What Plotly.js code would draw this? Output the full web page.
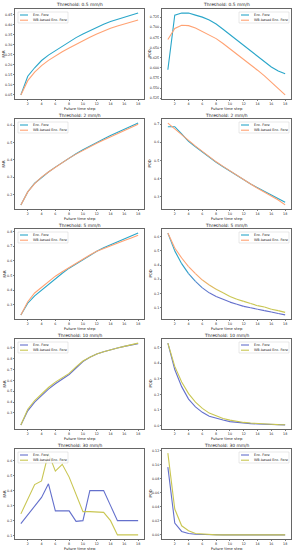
<!DOCTYPE html>
<html><head><meta charset="utf-8">
<script src="https://cdn.plot.ly/plotly-3.0.1.min.js"></script>
<style>html,body{margin:0;padding:0;background:#fff}#chart{width:294px;height:550px}</style>
</head><body><div id="chart"></div>
<script>
const steps = [1,2,3,4,5,6,7,8,9,10,11,12,13,14,15,16,17,18];
const xTicks = [2,4,6,8,10,12,14,16,18];
const thresholds = ["0.5 mm/h","2 mm/h","5 mm/h","10 mm/h","30 mm/h"];
const seriesNames = ["Enc. Fore","WB-based Enc. Fore"];

// FAR values
const farEnc05 = [0.05,0.143,0.185,0.221,0.248,0.270,0.293,0.315,0.335,0.353,0.370,0.387,0.402,0.415,0.426,0.437,0.447,0.457];
const farWb05  = [0.05,0.121,0.163,0.196,0.222,0.245,0.265,0.283,0.302,0.320,0.337,0.353,0.368,0.382,0.393,0.404,0.414,0.423];
const farEnc2  = [0.14,0.215,0.265,0.300,0.330,0.358,0.385,0.410,0.435,0.458,0.480,0.500,0.520,0.540,0.558,0.575,0.592,0.612];
const farWb2   = [0.14,0.215,0.263,0.300,0.330,0.358,0.385,0.410,0.433,0.455,0.476,0.496,0.515,0.533,0.552,0.570,0.587,0.605];
const farEnc5  = [0.23,0.31,0.36,0.40,0.44,0.48,0.515,0.55,0.58,0.61,0.64,0.665,0.69,0.71,0.73,0.75,0.77,0.79];
const farWb5   = [0.23,0.32,0.38,0.42,0.46,0.495,0.525,0.555,0.585,0.615,0.64,0.665,0.685,0.705,0.725,0.74,0.757,0.775];
const farEnc10 = [0.19,0.32,0.40,0.46,0.52,0.57,0.615,0.655,0.715,0.775,0.815,0.845,0.865,0.885,0.90,0.915,0.928,0.94];
const farWb10  = [0.19,0.335,0.415,0.475,0.535,0.585,0.625,0.665,0.725,0.78,0.815,0.845,0.865,0.885,0.90,0.915,0.93,0.945];
const farEnc30 = [0.18,0.24,0.30,0.355,0.445,0.265,0.265,0.265,0.195,0.20,0.40,0.40,0.40,0.30,0.20,0.20,0.20,0.20];
const farWb30  = [0.245,0.345,0.44,0.465,0.65,0.53,0.575,0.49,0.375,0.26,0.26,0.255,0.255,0.20,0.105,0.105,0.105,0.105];

// POD values
const podEnc05 = [0.595,0.730,0.735,0.735,0.730,0.725,0.718,0.708,0.695,0.682,0.668,0.655,0.641,0.628,0.615,0.602,0.592,0.585];
const podWb05  = [0.670,0.697,0.705,0.704,0.698,0.690,0.682,0.672,0.660,0.647,0.635,0.622,0.608,0.594,0.580,0.565,0.550,0.533];
const podEnc2  = [0.685,0.685,0.645,0.605,0.575,0.545,0.518,0.490,0.465,0.440,0.415,0.390,0.370,0.350,0.330,0.310,0.290,0.270];
const podWb2   = [0.705,0.675,0.645,0.610,0.578,0.548,0.520,0.492,0.467,0.442,0.418,0.393,0.370,0.347,0.325,0.303,0.282,0.255];
const podEnc5  = [0.625,0.50,0.41,0.34,0.285,0.24,0.205,0.18,0.16,0.14,0.125,0.11,0.10,0.09,0.08,0.07,0.06,0.05];
const podWb5   = [0.625,0.52,0.45,0.39,0.34,0.295,0.26,0.23,0.205,0.18,0.16,0.145,0.13,0.115,0.105,0.09,0.08,0.068];
const podEnc10 = [0.53,0.36,0.25,0.17,0.12,0.085,0.06,0.045,0.035,0.025,0.02,0.015,0.012,0.01,0.008,0.006,0.005,0.004];
const podWb10  = [0.53,0.38,0.28,0.205,0.15,0.11,0.08,0.06,0.045,0.035,0.027,0.02,0.016,0.012,0.01,0.008,0.006,0.005];
const podEnc30 = [0.097,0.017,0.005,0.002,0.001,0.0005,0,0,0,0,0,0,0,0,0,0,0,0];
const podWb30  = [0.117,0.037,0.013,0.006,0.002,0.001,0.0005,0,0,0,0,0,0,0,0,0,0,0];

// y tick labels per panel
const farTicks = [
  ["0.05","0.10","0.15","0.20","0.25","0.30","0.35","0.40","0.45"],
  ["0.2","0.3","0.4","0.5","0.6"],
  ["0.2","0.3","0.4","0.5","0.6","0.7","0.8"],
  ["0.3","0.4","0.5","0.6","0.7","0.8","0.9"],
  ["0.1","0.2","0.3","0.4","0.5","0.6"]];
const podTicks = [
  ["0.525","0.550","0.575","0.600","0.625","0.650","0.675","0.700","0.725"],
  ["0.3","0.4","0.5","0.6","0.7"],
  ["0.1","0.2","0.3","0.4","0.5","0.6"],
  ["0.0","0.1","0.2","0.3","0.4","0.5"],
  ["0.00","0.02","0.04","0.06","0.08","0.10","0.12"]];

const farData = [[farEnc05,farWb05],[farEnc2,farWb2],[farEnc5,farWb5],[farEnc10,farWb10],[farEnc30,farWb30]];
const podData = [[podEnc05,podWb05],[podEnc2,podWb2],[podEnc5,podWb5],[podEnc10,podWb10],[podEnc30,podWb30]];

const TEAL="#2aa6c9", ORANGE="#ffa273", BLUE="#6470cc", YELLOW="#c9c652";
const rowColors = [[TEAL,ORANGE],[TEAL,ORANGE],[TEAL,ORANGE],[BLUE,YELLOW],[BLUE,YELLOW]];

const W=294,H=550;
const FONT="DejaVu Sans", TXT="#222";
const traces=[]; const layout={width:W,height:H,margin:{l:0,r:0,t:0,b:0},paper_bgcolor:"#fff",plot_bgcolor:"#fff",
  font:{family:FONT,size:4,color:TXT},annotations:[],shapes:[],showlegend:false};

function hexToRgb(h){return [parseInt(h.slice(1,3),16),parseInt(h.slice(3,5),16),parseInt(h.slice(5,7),16)];}
function mix(a,b,t){const A=hexToRgb(a),B=hexToRgb(b);return "rgb("+A.map((v,i)=>Math.round(v+(B[i]-v)*t)).join(",")+")";}
const px=x=>x/W, py=y=>1-y/H;

const colL=[15,144], colR=[162,291];
let k=0;
for(let r=0;r<5;r++){
  for(let c=0;c<2;c++){
    k++;
    const ax = k===1?"":String(k);
    const cols = c===0?colL:colR;
    const top=110*r+9, bot=110*r+99;
    const data = c===0?farData[r]:podData[r];
    const ticks = c===0?farTicks[r]:podTicks[r];
    const all = data[0].concat(data[1]);
    const mn=Math.min(...all), mx=Math.max(...all), pad=(mx-mn)*0.05;
    const axStyle={showline:true,mirror:true,linecolor:"#000",linewidth:0.6,ticks:"outside",ticklen:1.5,tickwidth:0.5,
      tickcolor:"#000",showgrid:false,zeroline:false,tickfont:{size:3.3,color:TXT,family:FONT}};
    layout["xaxis"+ax]=Object.assign({domain:[px(cols[0]),px(cols[1])],anchor:"y"+ax,range:[0.15,18.85],
      tickvals:xTicks,ticktext:xTicks.map(String)},axStyle);
    layout["yaxis"+ax]=Object.assign({domain:[py(bot),py(top)],anchor:"x"+ax,range:[mn-pad,mx+pad],
      tickvals:ticks.map(Number),ticktext:ticks},axStyle);
    // subplot title
    layout.annotations.push({text:"Threshold: "+thresholds[r],xref:"paper",yref:"paper",
      x:px((cols[0]+cols[1])/2),y:py(110*r+5),showarrow:false,font:{size:4.4,color:TXT},xanchor:"center",yanchor:"middle"});
    // x title
    layout.annotations.push({text:"Future time step",xref:"paper",yref:"paper",
      x:px((cols[0]+cols[1])/2),y:py(110*r+108.3),showarrow:false,font:{size:3.8,color:TXT},xanchor:"center",yanchor:"middle"});
    // y title
    layout.annotations.push({text:c===0?"FAR":"POD",xref:"paper",yref:"paper",textangle:-90,
      x:px(cols[0]-(c===0?11.5:12.5)),y:py((top+bot)/2),showarrow:false,font:{size:3.8,color:TXT},xanchor:"center",yanchor:"middle"});
    // legend (manual)
    const lx0 = c===0?cols[0]+3:cols[1]-52, lx1 = lx0+50;
    const ly0 = top+3, ly1 = top+14;
    layout.shapes.push({type:"rect",xref:"paper",yref:"paper",x0:px(lx0),x1:px(lx1),y0:py(ly0),y1:py(ly1),
      line:{color:"#d0d0d0",width:0.5},fillcolor:"rgba(255,255,255,0.85)",layer:"above"});
    for(let s=0;s<2;s++){
      const yy = ly0+3+s*5.2;
      layout.shapes.push({type:"line",xref:"paper",yref:"paper",x0:px(lx0+2),x1:px(lx0+10),y0:py(yy),y1:py(yy),
        line:{color:rowColors[r][s],width:1.1},layer:"above"});
      layout.annotations.push({text:seriesNames[s],xref:"paper",yref:"paper",x:px(lx0+12.5),y:py(yy),
        showarrow:false,xanchor:"left",yanchor:"middle",font:{size:3.4,color:TXT}});
    }
    for(let s=0;s<2;s++){
      const base = rowColors[r][s];
      const gradient = (r===2 && c===1);
      if(!gradient){
        traces.push({x:steps,y:data[s],xaxis:"x"+ax,yaxis:"y"+ax,mode:"lines",name:seriesNames[s],
          line:{color:base,width:1.1},hoverinfo:"skip"});
      } else {
        const target = s===0?BLUE:YELLOW;
        const t0 = s===0?3:5, t1 = s===0?7:9;
        for(let i=0;i<steps.length-1;i++){
          const xm=(steps[i]+steps[i+1])/2;
          const t=Math.max(0,Math.min(1,(xm-t0)/(t1-t0)));
          traces.push({x:[steps[i],steps[i+1]],y:[data[s][i],data[s][i+1]],xaxis:"x"+ax,yaxis:"y"+ax,mode:"lines",
            name:seriesNames[s],line:{color:mix(base,target,t),width:1.1},hoverinfo:"skip"});
        }
      }
    }
  }
}
Plotly.newPlot("chart",traces,layout,{staticPlot:true,displayModeBar:false});
</script></body></html>
